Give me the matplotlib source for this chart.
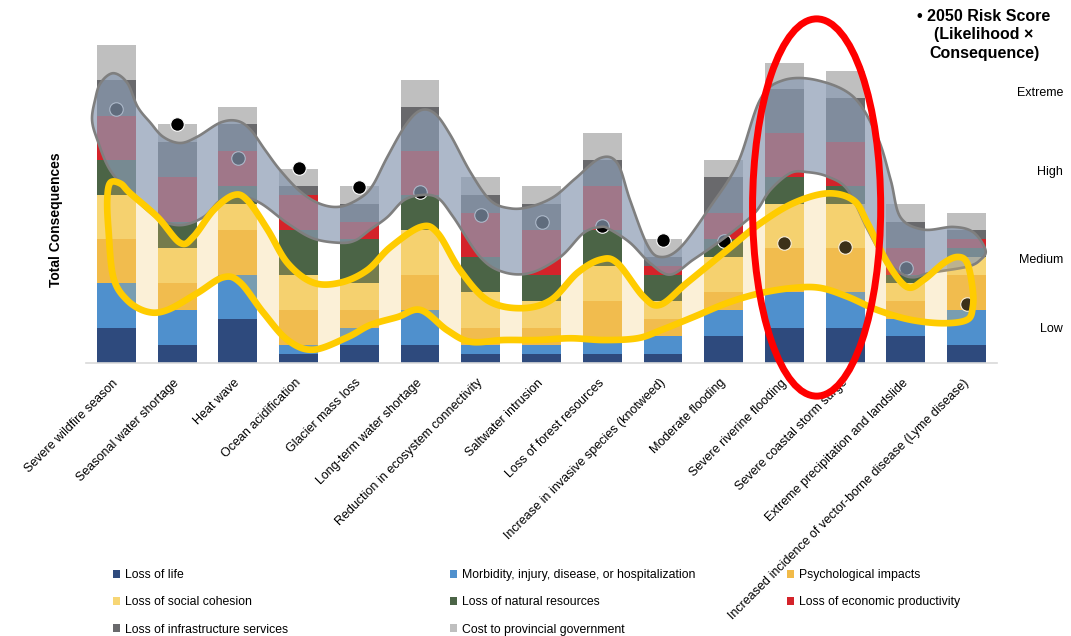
import numpy as np
import matplotlib
matplotlib.use("Agg")
import matplotlib.pyplot as plt
from matplotlib.patches import Polygon, Ellipse, Patch
from matplotlib.transforms import ScaledTranslation, blended_transform_factory

plt.rcParams['font.family'] = ['Liberation Sans', 'DejaVu Sans']

# ---------------- data ----------------
categories = ["Severe wildfire season", "Seasonal water shortage", "Heat wave",
              "Ocean acidification", "Glacier mass loss", "Long-term water shortage",
              "Reduction in ecosystem connectivity", "Saltwater intrusion",
              "Loss of forest resources", "Increase in invasive species (knotweed)",
              "Moderate flooding", "Severe riverine flooding", "Severe coastal storm surge",
              "Extreme precipitation and landslide",
              "Increased incidence of vector-borne disease (Lyme disease)"]

loss_of_life   = [4, 2, 5, 1, 2, 2, 1, 1, 1,   1, 3, 4, 4, 3, 2]
morbidity      = [5, 4, 5, 1, 2, 4, 1, 1, 1.4, 2, 3, 4, 4, 2, 4]
psychological  = [5, 3, 5, 4, 2, 4, 2, 2, 4.6, 2, 2, 5, 5, 2, 4]
social         = [5, 4, 3, 4, 3, 5, 4, 3, 4,   2, 4, 5, 5, 2, 2]
natural        = [4, 3, 2, 5, 5, 4, 4, 3, 4,   3, 2, 3, 2, 1, 1]
economic       = [5, 5, 4, 4, 2, 5, 5, 5, 5,   1, 3, 5, 5, 3, 1]
infrastructure = [4, 4, 3, 1, 2, 5, 2, 3, 3,   1, 4, 5, 5, 3, 1]
cost           = [4, 2, 2, 2, 2, 3, 2, 2, 3,   2, 2, 3, 3, 2, 2]

risk_score_2050 = [28.8, 27.1, 23.2, 22.1, 19.9, 19.3, 16.8, 16.0, 15.5, 13.9,
                   13.8, 13.6, 13.1, 10.8, 6.7]

series_names = ["Loss of life", "Morbidity, injury, disease, or hospitalization",
                "Psychological impacts", "Loss of social cohesion",
                "Loss of natural resources", "Loss of economic productivity",
                "Loss of infrastructure services", "Cost to provincial government"]
series_values = [loss_of_life, morbidity, psychological, social, natural,
                 economic, infrastructure, cost]
series_colors = ["#2e4a7d", "#4f90cd", "#f1ba48", "#f7d675", "#4b6446",
                 "#d4232a", "#69696c", "#bfbfbf"]

risk_levels = ["Extreme", "High", "Medium", "Low"]
risk_level_y = [30.6, 21.6, 11.7, 3.9]

# hand-drawn highlight outlines (category index, value)
gray_outline_x = [-0.40, -0.35, -0.26, -0.05, 0.18, 0.35, 0.56, 0.77, 1.05, 1.33, 1.71, 1.99,
                  2.21, 2.45, 2.70, 3.03, 3.36, 3.69, 4.02, 4.22, 4.46, 4.76, 5.01, 5.25,
                  5.50, 5.83, 6.16, 6.49, 6.82, 7.20, 7.56, 7.97, 8.25, 8.46, 8.74, 8.96,
                  9.29, 9.78, 10.23, 10.60, 10.98, 11.54, 12.14, 12.53, 12.75, 12.91, 13.29,
                  13.78, 14.11, 14.31,
                  14.23, 14.01, 13.40, 13.12, 12.91, 12.63, 12.37, 12.04, 11.71, 11.38,
                  11.10, 10.77, 10.55, 10.32, 9.90, 9.50, 9.12, 8.79, 8.46, 8.13, 7.97,
                  7.69, 7.31, 6.82, 6.37, 5.99, 5.55, 5.29, 5.01, 4.73, 4.46, 4.18, 3.94,
                  3.69, 3.24, 2.82, 2.37, 1.99, 1.71, 1.43, 1.05, 0.68, 0.28, -0.10, -0.31]
gray_outline_y = [27.5, 29.8, 31.7, 32.8, 31.7, 29.0, 27.2, 25.6, 24.9, 25.6, 27.2, 27.4,
                  26.4, 24.1, 21.8, 19.4, 18.0, 17.7, 18.7, 20.1, 23.3, 26.9, 28.6, 28.2,
                  25.8, 21.6, 18.4, 17.5, 17.7, 18.8, 20.9, 23.2, 22.6, 18.4, 13.4, 12.0,
                  13.1, 17.7, 22.6, 29.8, 32.0, 32.0, 30.1, 25.6, 20.7, 16.5, 15.1,
                  15.4, 14.8, 12.8,
                  11.7, 10.9, 10.2, 9.7, 10.2, 12.0, 15.1, 19.6, 21.1, 21.6,
                  21.5, 19.6, 17.3, 15.8, 13.6, 11.7, 10.0, 11.3, 13.6, 15.1, 15.4,
                  14.7, 12.0, 10.2, 10.3, 12.0, 16.5, 18.7, 19.0, 18.4, 16.5, 15.1, 13.9,
                  13.6, 14.1, 15.8, 18.1, 19.0, 18.4, 16.5, 15.6, 16.4, 18.8, 21.8, 25.2]

yellow_outline_x = [-0.10, 0.07, 0.23, 0.68, 1.05, 1.27, 1.60, 1.93, 2.16, 2.49, 2.82, 3.24,
                    3.69, 4.13, 4.51, 5.01, 5.29, 5.66, 6.11, 6.65, 7.15, 7.59, 7.97, 8.25,
                    8.68, 8.96, 9.40, 10.06, 10.60, 11.15, 11.71, 12.14, 12.37, 12.70, 13.02,
                    13.29, 13.62, 13.85, 14.01, 14.10, 14.10, 14.01,
                    13.62, 13.07, 12.53, 12.04, 11.59, 11.15, 10.60, 10.06, 9.50, 8.96,
                    8.58, 8.02, 7.48, 6.93, 6.37, 5.83, 5.45, 5.01, 4.63, 4.18, 3.80, 3.24,
                    2.82, 2.42, 2.04, 1.76, 1.33, 0.84, 0.51, 0.18, -0.05, -0.13, -0.15]
yellow_outline_y = [20.4, 20.3, 19.2, 16.5, 13.6, 14.3, 17.3, 19.0, 18.4, 15.1, 11.3, 9.1,
                    9.1, 10.5, 13.1, 15.4, 14.7, 10.5, 7.1, 6.2, 7.1, 10.2, 11.7, 11.3,
                    7.5, 6.6, 9.1, 12.8, 15.8, 18.1, 19.2, 18.4, 15.8, 11.3, 8.6,
                    9.4, 11.3, 12.0, 11.3, 8.3, 6.3, 4.9,
                    4.5, 4.9, 6.0, 7.5, 8.5, 8.5, 7.9, 6.8, 5.2, 3.7,
                    2.8, 2.6, 2.8, 2.6, 2.6, 2.4, 3.7, 6.0, 5.2, 4.3, 2.9, 1.5,
                    2.6, 5.7, 9.1, 9.7, 7.9, 6.0, 5.8, 7.1, 9.7, 15.1, 18.5]

highlight_center = (11.53, 17.6)
highlight_size = (2.11, 42.7)


def smooth_closed(xs, ys, n=14):
    P = np.column_stack([xs, ys])
    N = len(P)
    t = np.linspace(0, 1, n, endpoint=False)[:, None]
    out = []
    for i in range(N):
        p0, p1, p2, p3 = P[(i - 1) % N], P[i], P[(i + 1) % N], P[(i + 2) % N]
        out.append(0.5 * ((2 * p1) + (-p0 + p2) * t + (2 * p0 - 5 * p1 + 4 * p2 - p3) * t ** 2
                          + (-p0 + 3 * p1 - 3 * p2 + p3) * t ** 3))
    return np.vstack(out)


# ---------------- figure ----------------
fig = plt.figure(figsize=(10.71, 6.36), dpi=100)
ax = fig.add_axes([86 / 1071, 1 - 363 / 636, 911 / 1071, 333 / 636])

x = np.arange(len(categories))
bottom = np.zeros(len(categories))
handles = []
for name, vals, col in zip(series_names, series_values, series_colors):
    vals = np.asarray(vals, dtype=float)
    ax.bar(x, vals, bottom=bottom, width=0.64, color=col, zorder=2, linewidth=0)
    bottom += vals
    handles.append(Patch(facecolor=col, edgecolor='none', label=name))

ax.scatter(x, risk_score_2050, s=95, color='black', edgecolor='white', linewidth=0.8, zorder=3)

gray_pts = smooth_closed(gray_outline_x, gray_outline_y)
ax.add_patch(Polygon(gray_pts, closed=True, facecolor=(138/255, 155/255, 179/255, 0.70),
                     edgecolor='#7f7f7f', linewidth=1.9, zorder=4))
yel_pts = smooth_closed(yellow_outline_x, yellow_outline_y)
ax.add_patch(Polygon(yel_pts, closed=True, facecolor=(243/255, 196/255, 96/255, 0.25),
                     edgecolor='#ffcc00', linewidth=4.8, zorder=5))
ax.add_patch(Ellipse(highlight_center, highlight_size[0], highlight_size[1], fill=False,
                     edgecolor='#ff0000', linewidth=5, zorder=6, clip_on=False))

ax.set_xlim(-0.5, len(categories) - 0.5)
ax.set_ylim(0, 333 / 8.835)
ax.set_yticks([])
for s in ['top', 'right', 'left']:
    ax.spines[s].set_visible(False)
ax.spines['bottom'].set_color('#d9d9d9')
ax.spines['bottom'].set_linewidth(1.2)
ax.set_xticks(x)
ax.set_xticklabels(categories, rotation=45, ha='right', rotation_mode='anchor', fontsize=9)
ax.tick_params(axis='x', length=0, pad=10)
off = ScaledTranslation(-0.04, 0, fig.dpi_scale_trans)
for lab in ax.get_xticklabels():
    lab.set_transform(lab.get_transform() + off)

fig.text(56 / 1071, 1 - 220 / 636, "Total Consequences", rotation=90, ha='center',
         va='center', fontsize=10, fontweight='bold')

trans = blended_transform_factory(fig.transFigure, ax.transData)
for lbl, yv in zip(risk_levels, risk_level_y):
    ax.text(1063 / 1071, yv, lbl, transform=trans, ha='right', va='center', fontsize=9)

fig.text(984 / 1071, 1 - 35 / 636, "\u2022 2050 Risk Score\n(Likelihood \u00d7\nConsequence)",
         ha='center', va='center', fontsize=11.5, fontweight='bold', linespacing=1.3)

# legend: three columns, row-major order
col_groups = [[0, 3, 6], [1, 4, 7], [2, 5]]
col_x = [113, 450, 787]
for grp, cx in zip(col_groups, col_x):
    fig.legend([handles[i] for i in grp], [series_names[i] for i in grp],
               loc='upper left', bbox_to_anchor=(cx / 1071, 1 - 569 / 636),
               frameon=False, fontsize=8.8, handlelength=0.6, handleheight=0.6,
               handletextpad=0.35, labelspacing=1.25, borderpad=0, borderaxespad=0)

fig.savefig("out.png", dpi=100)
